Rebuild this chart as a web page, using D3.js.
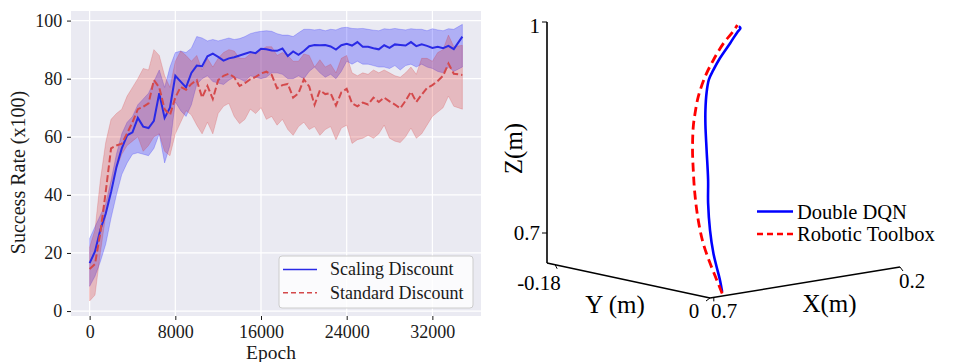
<!DOCTYPE html>
<html><head><meta charset="utf-8">
<script src="https://cdn.jsdelivr.net/npm/d3@7"></script>
<style>
body{margin:0;background:#fff;}
svg{display:block;font-family:"Liberation Serif","Times New Roman",serif;}
svg text{font-family:"Liberation Serif","Times New Roman",serif;}
</style>
</head><body><svg id="c" width="954" height="362"></svg>
<script>
// ---------- Left panel data ----------
const epochs = [0,500,1000,1500,2000,2500,3000,3500,4000,4500,5000,5500,6000,6500,7000,7500,8000,8500,9000,9500,
  10000,10500,11000,11500,12000,12500,13000,13500,14000,14500,15000,15500,16000,16500,17000,17500,18000,18500,19000,19500,
  20000,20500,21000,21500,22000,22500,23000,23500,24000,24500,25000,25500,26000,26500,27000,27500,28000,28500,29000,29500,
  30000,30500,31000,31500,32000,32500,33000,33500,34000,34800];
const scalingMean = [16.5,20.5,28,33.5,41,49.5,56,60.5,61.5,66.5, 63.5,63,65.5,75,66.5,70,81,79,77,82,
  84.5,84.3,87.7,88.6,87.5,86.2,87,87.4,88,88.6, 89.2,88.8,90.3,90.1,89.7,89.6,90.4,87.8,89.4,88.2,
  89.5,91.2,91.6,91.5,91.6,91.1,90,91.5,92,91.4, 92.6,91,91,90.5,90.1,91.5,90.6,91.8,91.6,91.4,
  92.6,91.2,91.8,91.3,90.6,91,90.5,91.3,90.2,94.5];
const scalingUpper = [25,29,33,37,45,54,61,65,67,71, 73,75,79,83,77,84,89,89.5,89,90.5,
  94.5,94,93,93.5,93,93.5,94,93.5,93.8,94.5, 95.5,96,96.3,96.5,96.3,95.5,95,95,94.5,95.8,
  97,97,96.8,97,96.5,97,96.8,97.5,97.7,97.3, 97.2,97.3,97,96.7,96.5,97.2,97,97.3,97,96.8,
  97.2,97,97,96.5,97.2,96.8,96.5,97.2,97,98.7];
const scalingLower = [8.5,12,17,23,32,40,47,51,54,54.5, 54,53.5,56,61,51,57,72,69,67,71,
  78,80,81,79,78.5,78,79.5,80.5,80,79, 81,80.5,80,80.5,82,82,81.5,80,80,81,
  80,82.5,84,82,80.5,81.5,80,82.5,86,85, 86,85,85,84.5,84,84,83.5,84.5,83,84.5,
  85,84,85,84,83.5,82.5,82,84,82.5,84];
const standardMean = [14.5,16.2,27,41,56,57,57.6,61.2,65,69.5, 70.3,71.5,79.5,77,69.5,67.5,73.5,77.2,76.2,78.2,
  79.5,73.5,77.5,73,79.5,81,81.7,80.5,77.5,78.5, 79.8,80.6,81.8,82.4,81.3,76.7,77.8,78.2,73.5,75,
  79.8,77.3,71,76,74.7,75,70.8,75.3,76.5,71.5, 70.5,71.8,71.1,73.5,72,73.5,72.2,71.1,69.8,72.4,
  75.5,72,74.5,76.8,77.8,79.2,81,85.2,81.7,81.3];
const standardUpper = [22,28,45,58,66,68,69.5,74,77,80, 83.5,83,90,88,81,77,86,89.5,88,86,
  88,83,87,84,87,89,90,89.5,87,87, 88.5,89,90,91,91,88,89,88,86,86,
  88.5,88,84,86.5,84,85,82,87,88,82, 81,82,81.5,83,82,83,82,81,80.5,82,
  84,81.5,87,87,86,89,90,95,91,91.5];
const standardLower = [3.5,5.5,20,33,44,49,54,57,58.5,60, 55,57,60,61,55,53.5,61,65,69,67.5,
  64,61,65,61,68,70.5,71.5,67,64.5,66, 69.5,68,70,66,67,64,66,62.5,60.5,63.5,
  65,62.5,63.5,60.5,62.5,63.5,59,63,64,57.7, 59,59.5,60.5,59.5,61,64,59.5,58.5,58,60,
  63,59.5,61,64,67,68.5,70,74,70.5,69.5];
const xTickValues = [0, 8000, 16000, 24000, 32000];
const yTickValues = [0, 20, 40, 60, 80, 100];
const legendLeft = ["Scaling Discount", "Standard Discount"];

// ---------- Right panel data (3D trajectories: X, Y, Z in metres) ----------
const dqnX = [0.668,0.674,0.683,0.691,0.700,0.705,0.705,0.709,0.712,0.712,0.709,0.703,0.691,0.674,0.647,0.628,0.620,0.624];
const dqnY = [0,0,0,0,0,0,0,0,0,0,0,0,0,0,0,0,0,0];
const dqnZ = [0.663,0.681,0.701,0.720,0.754,0.793,0.826,0.869,0.904,0.926,0.950,0.968,0.981,0.996,1.015,1.029,1.034,1.037];
const rtbX = [0.668,0.682,0.700,0.718,0.731,0.740,0.744,0.746,0.744,0.740,0.731,0.713,0.691,0.665,0.639,0.628];
const rtbY = [0,0,0,0,0,0,0,0,0,0,0,0,0,0,0,0];
const rtbZ = [0.661,0.681,0.707,0.737,0.771,0.810,0.843,0.872,0.905,0.921,0.946,0.973,0.995,1.016,1.031,1.039];
const legendRight = ["Double DQN", "Robotic Toolbox"];
const zTicks = [0.7, 1];

const svg = d3.select('#c');
const ink = '#1a1a1a';
const serif = '"Liberation Serif","Times New Roman",serif';

// ================= LEFT PANEL =================
const P = {l:71, r:481, t:11, b:316};
const x = d3.scaleLinear().domain([-1740, 36540]).range([P.l, P.r]);
const y = d3.scaleLinear().domain([-1.7, 103.3]).range([P.b, P.t]);
const g = svg.append('g');
g.append('rect').attr('x',P.l).attr('y',P.t).attr('width',P.r-P.l).attr('height',P.b-P.t).attr('fill','#eaeaf2');
g.selectAll('.gx').data(xTickValues).join('line')
  .attr('x1',d=>x(d)).attr('x2',d=>x(d)).attr('y1',P.t).attr('y2',P.b)
  .attr('stroke','#fff').attr('stroke-width',1.2);
g.selectAll('.gy').data(yTickValues).join('line')
  .attr('y1',d=>y(d)).attr('y2',d=>y(d)).attr('x1',P.l).attr('x2',P.r)
  .attr('stroke','#fff').attr('stroke-width',1.2);

const idx = d3.range(epochs.length);
const bandBlue = d3.area().x(i=>x(epochs[i])).y0(i=>y(scalingLower[i])).y1(i=>y(scalingUpper[i]));
const bandRed = d3.area().x(i=>x(epochs[i])).y0(i=>y(standardLower[i])).y1(i=>y(standardUpper[i]));
g.append('path').attr('d',bandBlue(idx)).attr('fill','#0000ff').attr('fill-opacity',0.25)
  .attr('stroke','#0000ff').attr('stroke-opacity',0.2).attr('stroke-width',1);
g.append('path').attr('d',bandRed(idx)).attr('fill','#d62728').attr('fill-opacity',0.25)
  .attr('stroke','#d62728').attr('stroke-opacity',0.2).attr('stroke-width',1);
const lineBlue = d3.line().x(i=>x(epochs[i])).y(i=>y(scalingMean[i]));
const lineRed = d3.line().x(i=>x(epochs[i])).y(i=>y(standardMean[i]));
g.append('path').attr('d',lineBlue(idx)).attr('fill','none').attr('stroke','#2a2ae6').attr('stroke-width',2);
g.append('path').attr('d',lineRed(idx)).attr('fill','none').attr('stroke','#d4494b').attr('stroke-width',2)
  .attr('stroke-dasharray','7,3');

const ax = g.append('g').attr('transform',`translate(0,${P.b})`)
  .call(d3.axisBottom(x).tickValues(xTickValues).tickFormat(d3.format('d')).tickSize(4).tickPadding(5));
const ay = g.append('g').attr('transform',`translate(${P.l},0)`)
  .call(d3.axisLeft(y).tickValues(yTickValues).tickSize(4).tickPadding(4.7));
[ax, ay].forEach(a=>{
  a.attr('font-family', serif).attr('font-size', 18);
  a.select('.domain').remove();
  a.selectAll('line').attr('stroke',ink);
  a.selectAll('text').attr('fill',ink);
});
g.append('text').attr('x',271).attr('y',359).attr('text-anchor','middle')
  .style('font-size','19.5px').attr('fill',ink).text('Epoch');
g.append('text').attr('transform','translate(24.5,172.5) rotate(-90)').attr('text-anchor','middle')
  .style('font-size','20px').attr('fill',ink).text('Success Rate (x100)');

// legend
const lg = g.append('g');
lg.append('rect').attr('x',279).attr('y',256).attr('width',194).attr('height',52).attr('rx',3)
  .attr('fill','#ffffff').attr('fill-opacity',0.8).attr('stroke','#cccccc').attr('stroke-width',1);
const lstyles = [{c:'#2a2ae6',d:null},{c:'#d4494b',d:'5,3'}];
legendLeft.forEach((t,i)=>{
  const yy = 269.5 + i*23.3;
  lg.append('line').attr('x1',283).attr('x2',317).attr('y1',yy).attr('y2',yy)
    .attr('stroke',lstyles[i].c).attr('stroke-width',1.5).attr('stroke-dasharray',lstyles[i].d);
  lg.append('text').attr('x',330).attr('y',yy).attr('dy','0.33em').style('font-size','18px')
    .attr('fill',ink).text(t);
});

// ================= RIGHT PANEL (3D) =================
const O = [710, 298];           // floor corner (X=0.7, Y=0)
const vX = [190, -31];          // floor direction of X axis (full extent)
const vY = [-163, -35];         // floor direction of Y axis (full extent)
const sX = d3.scaleLinear().domain([0.7, 0.2]).range([0, 1]);
const sY = d3.scaleLinear().domain([0, -0.18]).range([0, 1]);
const sZ = d3.scaleLinear().domain([0.7, 1]).range([30, 241]);
const zBase = sZ.invert(0);
function proj(X, Y, Z){
  const a = sX(X), b = sY(Y);
  return [O[0] + a*vX[0] + b*vY[0], O[1] + a*vX[1] + b*vY[1] - sZ(Z)];
}
const r = svg.append('g');
const axLine = (p,q)=>r.append('line').attr('x1',p[0]).attr('y1',p[1]).attr('x2',q[0]).attr('y2',q[1])
  .attr('stroke','#000').attr('stroke-width',1.6);
const cY = proj(0.7, -0.18, zBase), c0 = proj(0.7, 0, zBase), cX = proj(0.2, 0, zBase), zTop = proj(0.7,-0.18,1);
axLine(cY, c0); axLine(c0, cX); axLine(cY, zTop);
const tick = (p,dx,dy)=>r.append('line').attr('x1',p[0]).attr('y1',p[1]).attr('x2',p[0]+dx).attr('y2',p[1]+dy)
  .attr('stroke','#000').attr('stroke-width',1);
zTicks.forEach(z=>{ const p = proj(0.7,-0.18,z); tick(p,-5,0); });
tick(proj(0.7,-0.18+0.009,zBase),2,4);
tick(c0,-4,3);
tick(proj(0.7-0.01,0,zBase),0,4);
tick(cX,3,4);

const tfont = '21px', lfont = '25px';
const txt = (s,xx,yy,anchor,size)=>r.append('text').attr('x',xx).attr('y',yy).attr('text-anchor',anchor)
  .style('font-size',size).attr('fill','#000').text(s);
zTicks.forEach(z=>{
  const p = proj(0.7,-0.18,z);
  txt(z===1?'1':String(z), 540, p[1]+ (z===1?11:7), 'end', tfont);
});
txt('-0.18', 539, 289.5, 'middle', tfont);
txt('0', 694, 318, 'middle', tfont);
txt('0.7', 711, 318, 'start', tfont);
txt('0.2', 912, 288, 'middle', tfont);
txt('Y (m)', 615, 313, 'middle', lfont);
txt('X(m)', 829.5, 312, 'middle', lfont);
r.append('text').attr('transform','translate(522,148.5) rotate(-90)').attr('text-anchor','middle')
  .style('font-size',lfont).attr('fill','#000').text('Z(m)');

const traj = d3.line().curve(d3.curveCatmullRom);
const dqnPts = dqnX.map((v,i)=>proj(v, dqnY[i], dqnZ[i]));
const rtbPts = rtbX.map((v,i)=>proj(v, rtbY[i], rtbZ[i]));
r.append('path').attr('d',traj(dqnPts)).attr('fill','none').attr('stroke','#0000ff').attr('stroke-width',2.6);
r.append('path').attr('d',traj(rtbPts)).attr('fill','none').attr('stroke','#ff0000').attr('stroke-width',2.8)
  .attr('stroke-dasharray','9,5');

// right legend
const rl = [{c:'#0000ff',d:null},{c:'#ff0000',d:'6,4'}];
legendRight.forEach((t,i)=>{
  const yy = 211.5 + i*22.5;
  r.append('line').attr('x1',757).attr('x2',793).attr('y1',yy).attr('y2',yy)
    .attr('stroke',rl[i].c).attr('stroke-width',2.4).attr('stroke-dasharray',rl[i].d);
  r.append('text').attr('x',797).attr('y',yy+7.2).style('font-size','20.5px').attr('fill','#000').text(t);
});
</script></body></html>
